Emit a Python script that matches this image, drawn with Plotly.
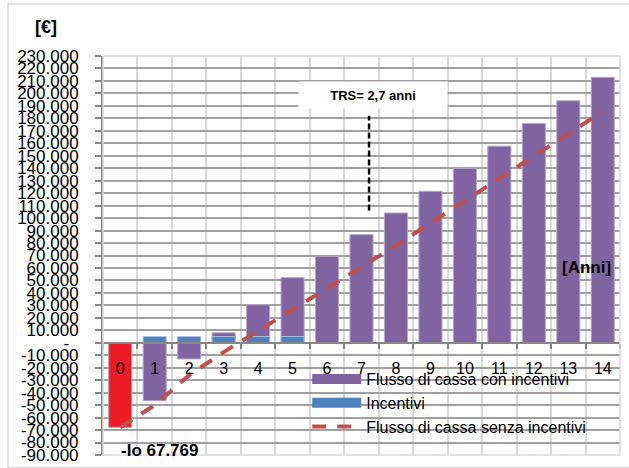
import plotly.graph_objects as go

# Years of the investment horizon
anni = [str(i) for i in range(15)]

# Cumulative cash flow with incentives (EUR); year 0 is the initial investment
flusso_con_incentivi = [-67769, -46500, -13000, 8000, 30500, 52200, 69300, 86700,
                        104100, 121500, 139800, 157700, 175900, 194100, 212900]

# Yearly incentives (EUR)
incentivi = [None, 5000, 5000, 5000, 5000, 5000, None, None, None, None,
             None, None, None, None, None]

# Cumulative cash flow without incentives (EUR)
flusso_senza_incentivi = [-67769, -50000, -26000, -7500, 9500, 26500, 43500, 60500,
                          78000, 96000, 114000, 131500, 149500, 167500, 185500]

# Y-axis ticks, Italian thousands separator, "-" at zero
y_tick_vals = list(range(-90000, 230001, 10000))
y_tick_text = [("-\u00a0\u00a0" if v == 0 else f"{v:,}".replace(",", ".")) for v in y_tick_vals]

PURPLE = "#8064A2"
BLUE = "#4F81BD"
RED_BAR = "#ED1C24"
RED_LINE = "#C0504D"
DARK_GRID = "#A0A0A0"
LIGHT_GRID = "#D9D9D9"
AXIS = "#868686"

bar_colors = [RED_BAR] + [PURPLE] * (len(anni) - 1)

fig = go.Figure()

fig.add_trace(go.Bar(
    x=anni, y=flusso_con_incentivi, name="Flusso di cassa con incentivi",
    marker=dict(color=bar_colors, line=dict(color="#B7A6CC", width=1)),
    showlegend=False,
))
fig.add_trace(go.Bar(
    x=anni, y=incentivi, name="Incentivi",
    marker=dict(color=BLUE, line=dict(color="#A7C0DE", width=1)),
    showlegend=False,
))
fig.add_trace(go.Scatter(
    x=anni, y=flusso_senza_incentivi, name="Flusso di cassa senza incentivi",
    mode="lines", line=dict(color=RED_LINE, width=4, dash="14px,11px"),
    legendrank=3,
))

# Legend swatches for the bar series
fig.add_trace(go.Scatter(x=[None], y=[None], mode="lines", name="Flusso di cassa con incentivi",
                         line=dict(color=PURPLE, width=10), legendrank=1))
fig.add_trace(go.Scatter(x=[None], y=[None], mode="lines", name="Incentivi",
                         line=dict(color=BLUE, width=10), legendrank=2))

FONT = "Liberation Sans, Arial, sans-serif"

fig.update_layout(
    width=629, height=468,
    margin=dict(l=103, r=9, t=56, b=13),
    paper_bgcolor="white", plot_bgcolor="white",
    barmode="overlay", bargap=0.33,
    font=dict(family=FONT, color="black", size=16),
    xaxis=dict(
        type="category", anchor="free", position=90 / 320,
        showline=True, linecolor=AXIS, linewidth=2,
        ticks="outside", ticklen=5, tickcolor=AXIS, tickwidth=1.5,
        tickson="boundaries",
        showgrid=True, gridcolor=LIGHT_GRID, gridwidth=1.5,
        tickfont=dict(family=FONT, size=16, color="black"),
        ticklabelstandoff=11,
        range=[-0.5, 14.5],
        automargin=False,
    ),
    yaxis=dict(
        range=[-90000, 230000],
        tickvals=y_tick_vals, ticktext=y_tick_text,
        showline=True, linecolor=AXIS, linewidth=2,
        ticks="outside", ticklen=6, tickcolor=AXIS, tickwidth=1.5,
        showgrid=True, gridcolor=DARK_GRID, gridwidth=1.5,
        zeroline=False,
        tickfont=dict(family="Liberation Sans Narrow, Arial Narrow, Liberation Sans, sans-serif",
                      size=17, color="black"),
        ticklabelstandoff=13,
        automargin=False,
    ),
    legend=dict(
        x=0.395, y=0.233, xanchor="left", yanchor="top",
        bgcolor="rgba(0,0,0,0)", borderwidth=0,
        font=dict(family=FONT, size=16, color="black"),
        itemwidth=49, tracegroupgap=0,
    ),
    showlegend=True,
)

# Plot-area frame and outer chart frame
fig.add_shape(type="rect", xref="paper", yref="paper", x0=0, x1=1, y0=0, y1=1,
              line=dict(color=LIGHT_GRID, width=1.5), layer="above")
fig.add_shape(type="rect", xref="paper", yref="paper",
              x0=(8 - 103) / 517, x1=(631 - 103) / 517,
              y0=(455 - 467.5) / 399, y1=(455 - 4) / 399,
              line=dict(color=LIGHT_GRID, width=1.5), layer="below")

# Payback-time marker
fig.add_shape(type="line", xref="x", yref="y", x0=7.22, x1=7.22, y0=106000, y1=182000,
              line=dict(color="black", width=2.5, dash="6px,3px"))
fig.add_annotation(x=7.33, y=198600, xref="x", yref="y", text="<b>TRS= 2,7 anni</b>",
                   showarrow=False, bgcolor="white", width=146, height=24,
                   font=dict(family=FONT, size=13, color="black"))

# Axis titles and investment label
fig.add_annotation(x=(46 - 103) / 517, y=(455 - 27) / 399, xref="paper", yref="paper",
                   xanchor="center", yanchor="middle",
                   text="<b>[€]</b>", showarrow=False,
                   font=dict(family=FONT, size=18, color="black"))
fig.add_annotation(x=13.54, y=60500, xref="x", yref="y", text="<b>[Anni]</b>",
                   xanchor="center", yanchor="middle",
                   showarrow=False, font=dict(family=FONT, size=17, color="black"))
fig.add_annotation(x=-0.04, y=-86500, xref="x", yref="y", text="<b>-Io 67.769</b>",
                   showarrow=False, xanchor="left", yanchor="middle",
                   font=dict(family=FONT, size=17, color="black"))

fig.write_html("out.html")
